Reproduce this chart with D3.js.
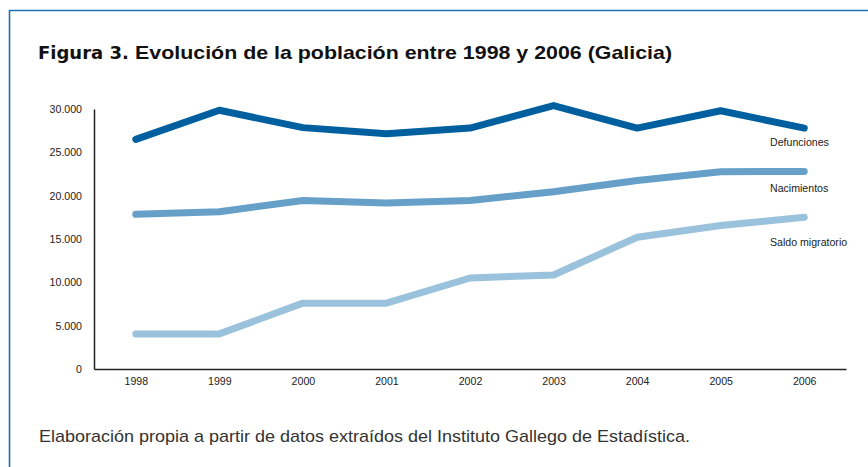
<!DOCTYPE html>
<html>
<head>
<meta charset="utf-8">
<script src="https://cdn.jsdelivr.net/npm/d3@7"></script>
<style>
	html, body { margin:0; padding:0; background:#fff; }
	#chart { width:868px; height:467px; }
	text { font-family: "Liberation Sans", Arial, sans-serif; }
</style>
</head>
<body>
<div id="chart"></div>
<script>

const years = ["1998","1999","2000","2001","2002","2003","2004","2005","2006"];
const defunciones = [26500, 29850, 27850, 27150, 27800, 30400, 27800, 29800, 27800];
const nacimientos = [17850, 18150, 19450, 19150, 19450, 20450, 21750, 22750, 22800];
const saldoMigratorio = [4050, 4050, 7600, 7600, 10500, 10850, 15200, 16550, 17500];
const seriesNames = ["Defunciones","Nacimientos","Saldo migratorio"];
const yTicks = [0, 5000, 10000, 15000, 20000, 25000, 30000];

function drawChart(rootDOM){

	const W = 868;
	const H = 467;
	const m = {t:109,r:22,b:98,l:94};

	const colors = ["#00609f","#66a0c8","#9ac2dc"];
	const series = [defunciones, nacimientos, saldoMigratorio];

	const fmt = d3.formatLocale({decimal:",", thousands:".", grouping:[3], currency:["",""]}).format(",");

	const svg = d3.select(rootDOM)
		.append("svg")
		.attr("width", W)
		.attr("height", H);

	// frame
	svg.append("path")
		.attr("d", `M9.5,${H+2} L9.5,10.5 L${W+2},10.5`)
		.style("fill","none")
		.style("stroke","#1c70b6")
		.style("stroke-width",1.6);

	const title = svg.append("text")
		.attr("x", 38)
		.attr("y", 59)
		.style("font-size","19px")
		.style("fill","#111");
	const t1 = title.append("tspan")
		.style("font-weight","900")
		.style("font-family","'DejaVu Sans', sans-serif")
		.style("font-size","18px")
		.text("Figura 3. ");
	const t2 = title.append("tspan")
		.style("font-weight","bold")
		.text("Evolución de la población entre 1998 y 2006 (Galicia)");
	// squeeze/stretch the title so it ends where the original does
	const t1w = t1.node().getComputedTextLength();
	t2.attr("textLength", 672 - 38 - t1w).attr("lengthAdjust","spacingAndGlyphs");

	const x = d3.scalePoint()
		.domain(years)
		.range([m.l, W-m.r])
		.padding(0.5);

	const y = d3.scaleLinear()
		.domain([0,30000])
		.range([H-m.b, m.t]);

	const yAxis = svg.append("g")
		.attr("transform", `translate(${m.l},0)`)
		.call(d3.axisLeft(y).tickValues(yTicks).tickSize(0).tickPadding(12).tickFormat(fmt));

	const xAxis = svg.append("g")
		.attr("transform", `translate(0,${H-m.b})`)
		.call(d3.axisBottom(x).tickSize(0).tickPadding(8));

	[yAxis, xAxis].forEach(g => {
		g.select(".domain").style("stroke","#222").style("stroke-width",1.5);
		g.selectAll("text")
			.style("font-family","'Liberation Sans', Arial, sans-serif")
			.style("font-size","10.6px")
			.style("fill","#222");
	});

	const line = d3.line()
		.x((d,i) => x(years[i]))
		.y(d => y(d));

	svg.selectAll(".serie")
		.data(series)
		.enter()
		.append("path")
		.attr("class","serie")
		.attr("d", d => line(d))
		.style("fill","none")
		.style("stroke", (d,i) => colors[i])
		.style("stroke-width",7)
		.style("stroke-linecap","round")
		.style("stroke-linejoin","round");

	const labelY = [146, 192, 246];
	svg.selectAll(".label")
		.data(seriesNames)
		.enter()
		.append("text")
		.attr("class","label")
		.attr("x", 770)
		.attr("y", (d,i) => labelY[i])
		.style("font-size","10.6px")
		.style("fill","#222")
		.text(d => d);

	svg.append("text")
		.attr("x", 39)
		.attr("y", 442)
		.attr("textLength", 651)
		.attr("lengthAdjust","spacingAndGlyphs")
		.style("font-size","17px")
		.style("fill","#333")
		.text("Elaboración propia a partir de datos extraídos del Instituto Gallego de Estadística.");
}

drawChart(document.getElementById("chart"));
</script>
</body>
</html>
